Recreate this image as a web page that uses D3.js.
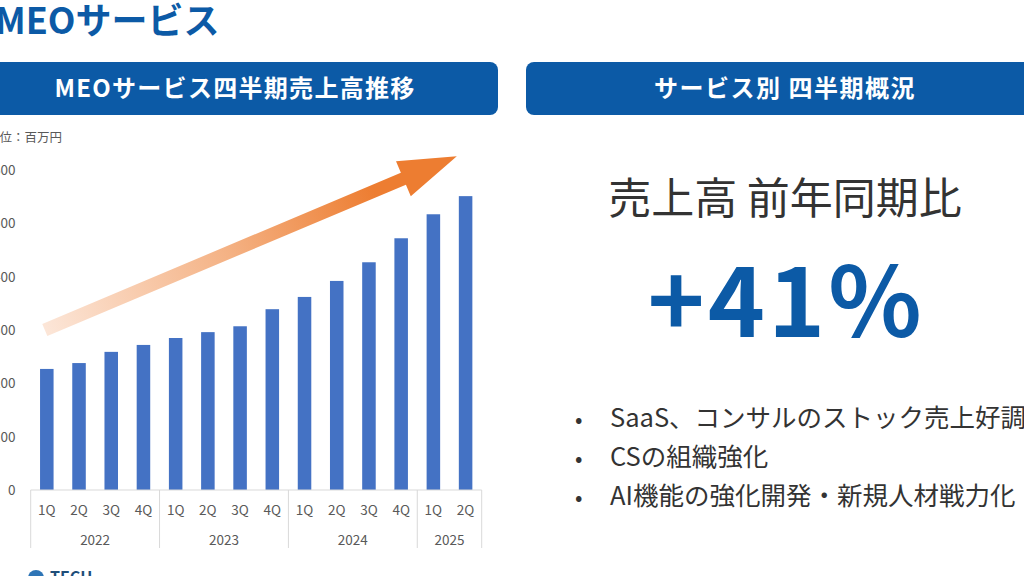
<!DOCTYPE html>
<html>
  <head>
    <meta charset="utf-8">
    <title>MEOサービス</title>
    <script src="https://d3js.org/d3.v7.min.js"></script>
    <style>
      html, body { margin: 0; padding: 0; background: #fff; overflow: hidden; }
      text { font-family: "Noto Sans CJK JP", "Noto Sans", sans-serif; }
    </style>
  </head>
  <body>
    <svg width="1024" height="576"></svg>
    <script>
      // quarterly MEO sales (million yen)
      const quarters = ["1Q", "2Q", "3Q", "4Q", "1Q", "2Q", "3Q", "4Q", "1Q", "2Q", "3Q", "4Q", "1Q", "2Q"];
      const years = ["2022", "2023", "2024", "2025"];
      const yearCounts = [4, 4, 4, 2];
      const sales = [227, 238, 259, 272, 285, 296, 307, 339, 362, 392, 427, 472, 517, 551];
      const yTicks = [0, 100, 200, 300, 400, 500, 600];
      const bullets = [
        "SaaS、コンサルのストック売上好調",
        "CSの組織強化",
        "AI機能の強化開発・新規人材戦力化"
      ];

      const blue = "#0c5aa6";
      const barBlue = "#4472c4";
      const axisGray = "#d9d9d9";
      const labelGray = "#595959";

      function main(){
        const svg = d3.select("svg");

        // page title
        svg.append("text")
          .attr("x", -5).attr("y", 34)
          .attr("fill", blue)
          .attr("font-size", 36).attr("font-weight", 700)
          .text("MEOサービス");

        // section headers
        const headers = [
          {x: -30, w: 528, text: "MEOサービス四半期売上高推移", cx: 235, ls: 1.3},
          {x: 526, w: 540, text: "サービス別 四半期概況", cx: 785, ls: 1.5}
        ];
        const hg = svg.selectAll("g.header").data(headers).enter().append("g").attr("class", "header");
        hg.append("rect")
          .attr("x", d => d.x).attr("y", 62)
          .attr("width", d => d.w).attr("height", 53)
          .attr("rx", 8)
          .attr("fill", blue);
        hg.append("text")
          .attr("x", d => d.cx).attr("y", 97)
          .attr("text-anchor", "middle")
          .attr("fill", "#fff")
          .attr("font-size", 24).attr("font-weight", 700)
          .attr("letter-spacing", d => d.ls)
          .text(d => d.text);

        // ---- bar chart ----
        const keys = quarters.map((q, i) => i);
        const xScale = d3.scaleBand()
          .domain(keys)
          .range([30.7, 481.7])
          .paddingInner(0.58)
          .paddingOuter(0.29);
        const yScale = d3.scaleLinear()
          .domain([0, 600])
          .range([490, 170]);

        svg.append("text")
          .attr("x", -13).attr("y", 142)
          .attr("fill", labelGray)
          .attr("font-size", 12.5)
          .text("単位：百万円");

        // y labels (left digits fall off the crop, as in the slide)
        svg.append("g").selectAll("text").data(yTicks).enter().append("text")
          .attr("x", 15.5)
          .attr("y", d => yScale(d) + 5)
          .attr("text-anchor", "end")
          .attr("fill", labelGray)
          .attr("font-family", "Verdana, 'DejaVu Sans', sans-serif")
          .attr("font-size", 13.5)
          .text(d => d);

        // gradient arrow
        const tail = [xScale(0) + xScale.bandwidth() / 2 - 2, yScale(300)];
        const tip = [xScale(13) - 2, yScale(626)];
        const defs = svg.append("defs");
        const grad = defs.append("linearGradient")
          .attr("id", "arrowGrad")
          .attr("gradientUnits", "userSpaceOnUse")
          .attr("x1", tail[0]).attr("y1", tail[1])
          .attr("x2", tip[0]).attr("y2", tip[1]);
        grad.append("stop").attr("offset", 0).attr("stop-color", "#fce6d8");
        grad.append("stop").attr("offset", 0.45).attr("stop-color", "#f4b183");
        grad.append("stop").attr("offset", 0.8).attr("stop-color", "#ed7d31");
        grad.append("stop").attr("offset", 1).attr("stop-color", "#ed7d31");

        const dx = tip[0] - tail[0], dy = tip[1] - tail[1];
        const len = Math.hypot(dx, dy);
        const u = [dx / len, dy / len], n = [-u[1], u[0]];
        const sw = 6.5, headLen = 58, headW = 19;
        const base = [tip[0] - u[0] * headLen, tip[1] - u[1] * headLen];
        const pt = (p, k) => [p[0] + n[0] * k, p[1] + n[1] * k];
        const arrowPts = [
          pt(tail, sw), pt(base, sw), pt(base, headW), tip,
          pt(base, -headW), pt(base, -sw), pt(tail, -sw)
        ];
        svg.append("path")
          .attr("d", d3.line()(arrowPts) + "Z")
          .attr("fill", "url(#arrowGrad)");

        // bars
        svg.append("g").selectAll("rect").data(sales).enter().append("rect")
          .attr("x", (d, i) => xScale(i))
          .attr("y", d => yScale(d))
          .attr("width", xScale.bandwidth())
          .attr("height", d => yScale(0) - yScale(d))
          .attr("fill", barBlue);

        // category axis
        const axisG = svg.append("g");
        axisG.append("line")
          .attr("x1", xScale.range()[0]).attr("x2", xScale.range()[1])
          .attr("y1", yScale(0)).attr("y2", yScale(0))
          .attr("stroke", axisGray);
        const step = xScale.step();
        const yearStarts = yearCounts.map((c, i) => d3.sum(yearCounts.slice(0, i)));
        const bounds = yearStarts.concat([quarters.length]);
        axisG.selectAll("line.sep").data(bounds).enter().append("line")
          .attr("class", "sep")
          .attr("x1", d => xScale.range()[0] + d * step)
          .attr("x2", d => xScale.range()[0] + d * step)
          .attr("y1", yScale(0)).attr("y2", 548)
          .attr("stroke", axisGray);
        axisG.selectAll("text.q").data(quarters).enter().append("text")
          .attr("class", "q")
          .attr("x", (d, i) => xScale(i) + xScale.bandwidth() / 2)
          .attr("y", 515)
          .attr("text-anchor", "middle")
          .attr("fill", labelGray)
          .attr("font-family", "Verdana, 'DejaVu Sans', sans-serif")
          .attr("font-size", 13.5)
          .text(d => d);
        axisG.selectAll("text.yr").data(years).enter().append("text")
          .attr("class", "yr")
          .attr("x", (d, i) => xScale.range()[0] + (yearStarts[i] + yearCounts[i] / 2) * step)
          .attr("y", 545)
          .attr("text-anchor", "middle")
          .attr("fill", labelGray)
          .attr("font-family", "Verdana, 'DejaVu Sans', sans-serif")
          .attr("font-size", 13.5)
          .text(d => d);

        // ---- right panel ----
        svg.append("text")
          .attr("x", 785).attr("y", 214)
          .attr("text-anchor", "middle")
          .attr("fill", "#333")
          .attr("font-size", 43)
          .text("売上高 前年同期比");

        svg.append("text")
          .attr("x", 786).attr("y", 337)
          .attr("text-anchor", "middle")
          .attr("fill", blue)
          .attr("font-family", "'Liberation Sans', Arial, sans-serif")
          .attr("font-size", 97).attr("font-weight", 700)
          .attr("letter-spacing", 3)
          .text("+41%");

        const bg = svg.append("g").selectAll("g").data(bullets).enter().append("g");
        bg.append("text")
          .attr("x", 575).attr("y", (d, i) => 427 + i * 39)
          .attr("fill", "#333").attr("font-size", 22)
          .text("•");
        bg.append("text")
          .attr("x", 610).attr("y", (d, i) => 427 + i * 39)
          .attr("fill", "#333").attr("font-size", 25.5)
          .text(d => d);

        // footer logo fragment
        svg.append("circle").attr("cx", 36).attr("cy", 578).attr("r", 8).attr("fill", "#2e75b6");
        svg.append("text")
          .attr("x", 50).attr("y", 583)
          .attr("fill", "#1f4e79").attr("font-size", 16).attr("font-weight", 700)
          .text("TECH");
      }
      main();
    </script>
  </body>
</html>
